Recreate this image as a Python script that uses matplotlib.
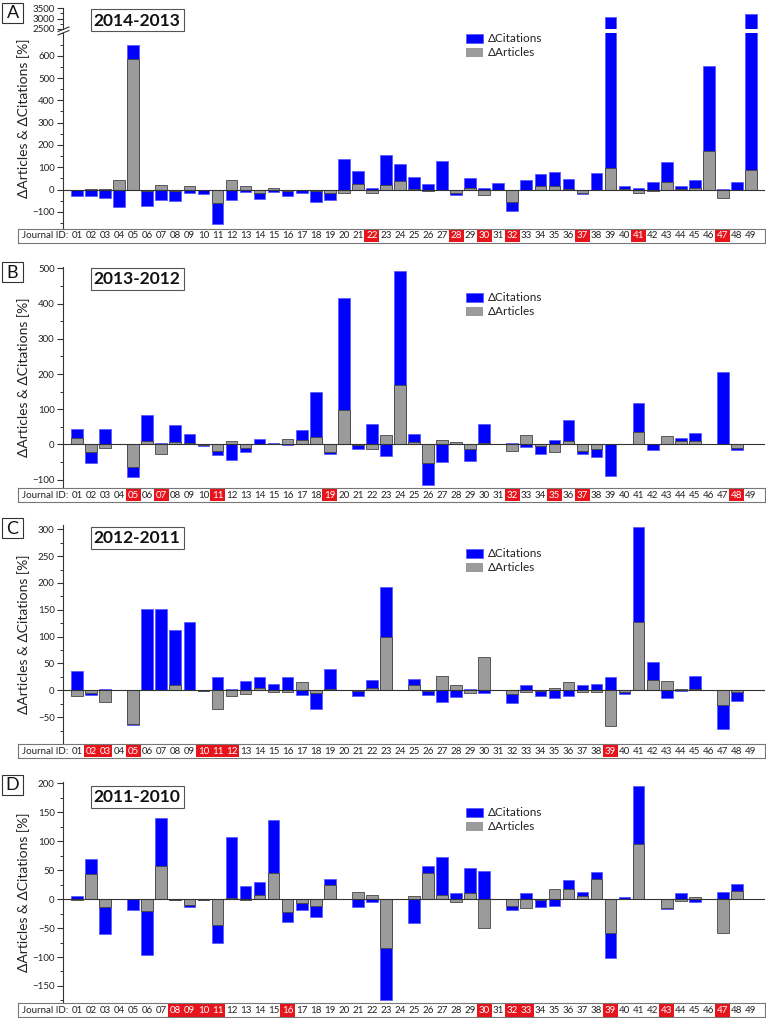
import matplotlib
matplotlib.use('Agg')
import matplotlib.pyplot as plt
from matplotlib.patches import Rectangle
from matplotlib.lines import Line2D
from matplotlib.ticker import MultipleLocator
import numpy as np

plt.rcParams['font.family'] = ['Lato', 'DejaVu Sans']

# ---------------- data ----------------
journal_ids = [f"{i:02d}" for i in range(1, 50)]

cit_A = [-28, -27, -36, -80, 648, -75, -48, -52, -15, -18,
         -153, -47, -10, -40, -12, -28, -13, -57, -45, 136,
         82, 9, 154, 113, 58, 24, 127, -24, 51, 6,
         30, -97, 42, 69, 78, 46, -21, 73, 3095, 16,
         9, 36, 122, 15, 45, 554, 3, 33, 3210]
art_A = [-3, 4, 4, 43, 585, -5, 22, -6, 18, -3,
         -60, 45, 18, -13, 5, -6, -3, -6, -15, -17,
         25, -15, 21, 39, 2, -5, -3, -16, 9, -25,
         0, -55, 0, 18, 16, 3, -13, 0, 98, 3,
         -17, -7, 33, 2, 9, 175, -38, 0, 87]
red_A = ['22', '28', '30', '32', '37', '41', '47']

cit_B = [45, -52, 43, 0, -92, 84, 4, 54, 29, -5,
         -29, -45, -23, 14, 5, -3, 40, 149, -28, 415,
         -12, 59, -34, 493, 29, -115, -51, 4, -48, 59,
         0, 4, -7, -27, 12, 70, -28, -37, -90, 0,
         119, -15, 0, 17, 31, 0, 207, -17, 0]
art_B = [19, -23, -11, 0, -65, 9, -27, 7, 5, -2,
         -18, 9, -9, 0, 2, 16, 13, 22, -23, 99,
         -3, -12, 26, 169, 8, -54, 12, 8, -12, 4,
         0, -18, 26, -4, -21, 10, -19, -12, 0, 2,
         36, 0, 25, 9, 9, 0, 0, -9, 0]
red_B = ['05', '07', '11', '19', '32', '35', '37', '48']

cit_C = [36, -8, 2, 0, -65, 152, 152, 112, 127, -2,
         24, 2, 18, 25, 12, 25, -8, -35, 40, 0,
         -11, 19, 192, 0, 21, -8, -21, -12, 3, -5,
         0, -23, 9, -10, -14, -10, 10, 12, 25, -6,
         305, 52, -14, -2, 26, 0, -72, -19, 0]
art_C = [-10, -5, -22, 0, -63, 0, 0, 9, 0, -1,
         -34, -10, -6, 5, -3, -3, 15, -5, 3, 0,
         -2, 4, 99, 0, 9, -2, 26, 9, -5, 62,
         0, -7, -4, -2, 5, 16, -4, -3, -67, -3,
         128, 20, 17, 2, 2, 0, -28, -3, 0]
red_C = ['02', '03', '05', '10', '11', '12', '39']

cit_D = [5, 69, -61, 0, -18, -97, 141, -1, -13, -1,
         -76, 108, 23, 29, 137, -39, -18, -30, 35, 0,
         -14, -5, -174, 0, -41, 58, 72, 10, 53, 48,
         0, -19, 10, -13, -12, 33, 13, 47, -102, 3,
         196, 0, -17, 10, -5, 0, 12, 26, 0]
art_D = [-2, 44, -14, 0, 0, -20, 58, -1, -10, -1,
         -45, 2, -2, 8, 46, -22, -7, -11, 24, 0,
         12, 7, -85, 0, 5, 46, 7, -5, 11, -49,
         0, -12, -16, -1, 18, 18, 5, 35, -59, 1,
         96, 0, -16, -3, 3, 0, -59, 14, 0]
red_D = ['08', '09', '10', '11', '16', '30', '32', '33', '39', '43', '47']

letters = ['A', 'B', 'C', 'D']
titles = ['2014-2013', '2013-2012', '2012-2011', '2011-2010']
series_labels = ['\u0394Citations', '\u0394Articles']
ylabel = '\u0394Articles & \u0394Citations [%]'

# ---------------- styling / layout ----------------
W, H = 766, 1018
BLUE = '#0000ff'
BLUE_EDGE = '#5c5cff'
GRAY = '#9b9b9b'
GRAY_EDGE = '#454545'
RED = '#e8141c'
TXT = '#222222'

fig = plt.figure(figsize=(W / 100, H / 100), dpi=100)


def ax_px(x0, y0, x1, y1):
    return fig.add_axes([x0 / W, 1 - y1 / H, (x1 - x0) / W, (y1 - y0) / H])


def rect_px(x0, y0, x1, y1, **kw):
    r = Rectangle((x0 / W, 1 - y1 / H), (x1 - x0) / W, (y1 - y0) / H,
                  transform=fig.transFigure, **kw)
    fig.patches.append(r)


AX_L, AX_R = 63, 765
XMIN, XMAX = 0, 50
BOX_L = 18
px_per_unit = (AX_R - AX_L) / (XMAX - XMIN)


def draw_bars(ax, cit, art, zero=True):
    x = np.arange(1, len(journal_ids) + 1)
    ax.bar(x, cit, width=0.83, color=BLUE, edgecolor=BLUE_EDGE, linewidth=0.6, zorder=2)
    ax.bar(x, art, width=0.83, color=GRAY, edgecolor=GRAY_EDGE, linewidth=0.6, zorder=3)
    if zero:
        ax.axhline(0, color='#333333', lw=0.8, zorder=4)
    ax.set_xlim(XMIN, XMAX)
    for s in ['top', 'right', 'bottom']:
        ax.spines[s].set_visible(False)
    ax.spines['left'].set_color('#333333')
    ax.spines['left'].set_linewidth(0.8)
    ax.set_xticks([])
    ax.tick_params(axis='y', which='major', direction='out', length=4, width=0.8,
                   labelsize=7, pad=2, colors='#333333', labelcolor=TXT)
    ax.tick_params(axis='y', which='minor', direction='out', length=2, width=0.7,
                   colors='#333333')
    ax.patch.set_alpha(0)


def journal_row(y0, y1, red):
    lab = ax_px(BOX_L, y0, AX_R, y1)
    left = XMIN - (AX_L - BOX_L) / px_per_unit
    lab.set_xlim(left, XMAX)
    lab.set_ylim(0, 1)
    lab.set_xticks([])
    lab.set_yticks([])
    for s in lab.spines.values():
        s.set_color('#777777')
        s.set_linewidth(0.8)
    lab.text((22 - BOX_L) / (AX_R - BOX_L), 0.5, 'Journal ID:', transform=lab.transAxes,
             ha='left', va='center', fontsize=7, color=TXT)
    for i, jid in enumerate(journal_ids):
        if jid in red:
            lab.text(i + 1, 0.5, jid, ha='center', va='center', fontsize=7, color='white',
                     bbox=dict(boxstyle='square,pad=0.18', fc=RED, ec='none'))
        else:
            lab.text(i + 1, 0.5, jid, ha='center', va='center', fontsize=7, color=TXT)


def decorations(k, letter_y, title_y, leg_y, ylab_y):
    # letter box
    rect_px(2, letter_y, 23, letter_y + 20, fc='white', ec='#333333', lw=0.8)
    fig.text(12.5 / W, 1 - (letter_y + 10.5) / H, letters[k], ha='center', va='center',
             fontsize=13, color='#111111')
    # title box
    rect_px(90.7, title_y, 183.7, title_y + 22, fc='white', ec='#555555', lw=0.8)
    fig.text(137.2 / W, 1 - (title_y + 11.5) / H, titles[k], ha='center', va='center',
             fontsize=12.5, fontweight='bold', color='#111111')
    # legend
    rect_px(466, leg_y, 483, leg_y + 9, fc=BLUE, ec=BLUE_EDGE, lw=0.6)
    rect_px(466, leg_y + 14, 483, leg_y + 23, fc=GRAY, ec='none')
    fig.text(488 / W, 1 - (leg_y + 4.5) / H, series_labels[0], ha='left', va='center',
             fontsize=8.5, color=TXT)
    fig.text(488 / W, 1 - (leg_y + 18.5) / H, series_labels[1], ha='left', va='center',
             fontsize=8.5, color=TXT)
    # y label
    fig.text(24 / W, 1 - ylab_y / H, ylabel, rotation=90, ha='center', va='center',
             fontsize=10, color=TXT)


# ---------- Panel A (broken axis) ----------
axA_top = ax_px(AX_L, 8.3, AX_R, 29)
draw_bars(axA_top, cit_A, art_A, zero=False)
axA_top.set_ylim(2500, 3500)
axA_top.set_yticks([2500, 3000, 3500])
axA_top.yaxis.set_minor_locator(MultipleLocator(250))

axA = ax_px(AX_L, 32.7, AX_R, 228)
draw_bars(axA, cit_A, art_A)
axA.set_ylim(-172, 703)
axA.set_yticks(np.arange(-100, 601, 100))
axA.yaxis.set_minor_locator(MultipleLocator(50))

# break marks
for dy in (0, 3.5):
    fig.lines.append(Line2D([(AX_L - 5) / W, (AX_L + 6) / W],
                            [1 - (31.5 + dy) / H, 1 - (27 + dy) / H],
                            transform=fig.transFigure, color='#333333', lw=0.8))
journal_row(229, 243, red_A)
decorations(0, 3, 9.3, 34, 118)

# ---------- Panel B ----------
axB = ax_px(AX_L, 266.7, AX_R, 488)
draw_bars(axB, cit_B, art_B)
axB.set_ylim(-124, 505)
axB.set_yticks(np.arange(-100, 501, 100))
axB.yaxis.set_minor_locator(MultipleLocator(50))
journal_row(488, 502, red_B)
decorations(1, 262, 268, 293.3, 377)

# ---------- Panel C ----------
axC = ax_px(AX_L, 525, AX_R, 744)
draw_bars(axC, cit_C, art_C)
axC.set_ylim(-100, 308)
axC.set_yticks(np.arange(-50, 301, 50))
axC.yaxis.set_minor_locator(MultipleLocator(25))
journal_row(744.3, 757.7, red_C)
decorations(2, 518, 526.5, 549.3, 634)

# ---------- Panel D ----------
axD = ax_px(AX_L, 781.7, AX_R, 1003.3)
draw_bars(axD, cit_D, art_D)
axD.set_ylim(-180, 203)
axD.set_yticks(np.arange(-150, 201, 50))
axD.yaxis.set_minor_locator(MultipleLocator(25))
journal_row(1003.3, 1017.3, red_D)
decorations(3, 775, 785.5, 808.3, 892)

fig.savefig('out.png', dpi=100)
